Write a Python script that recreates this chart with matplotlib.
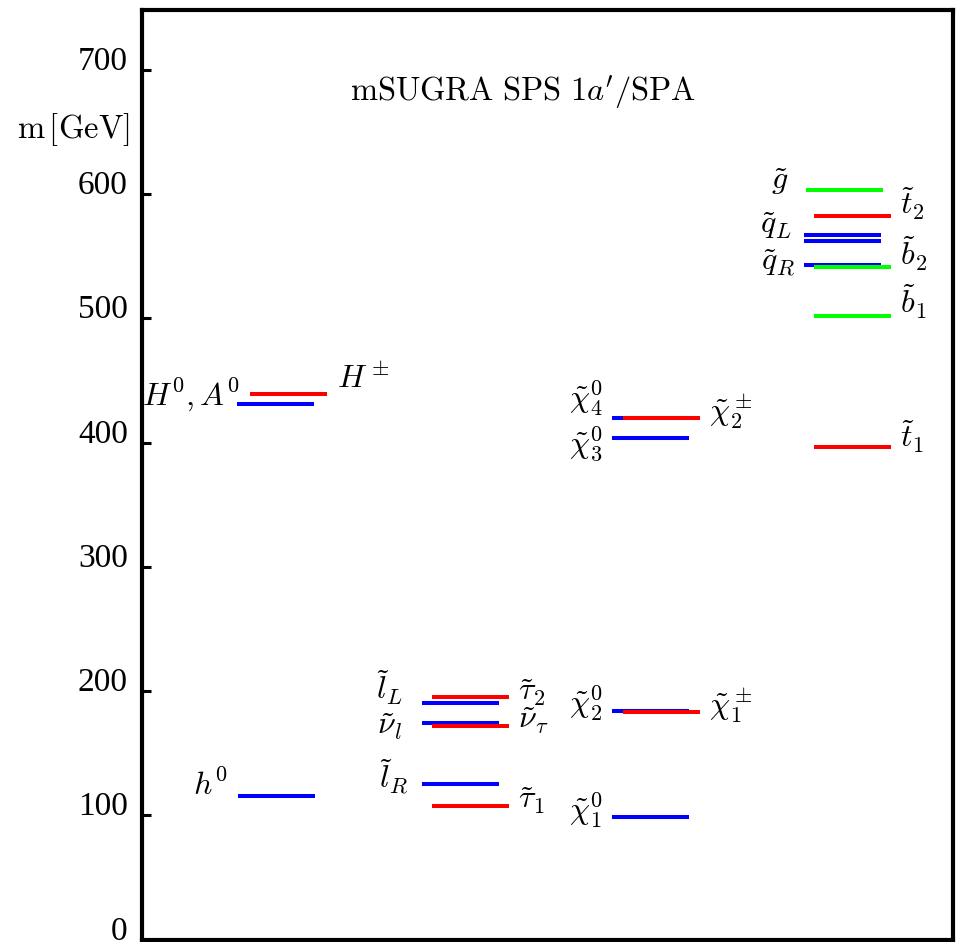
import matplotlib
matplotlib.use('Agg')
from matplotlib import pyplot as plt

plt.rcParams['mathtext.fontset'] = 'cm'
plt.rcParams['font.family'] = 'serif'
plt.rcParams['font.serif'] = ['Liberation Serif', 'DejaVu Serif']

# masses in GeV
higgs_blue = [116.0, 431.0]          # h0, H0/A0
higgs_red = [439.0]                  # H+-
slepton_blue = [125.5, 174.3, 190.8]  # l_R, nu_l, l_L
slepton_red = [107.3, 171.6, 195.7]   # tau1, nu_tau, tau2
neutralino = [98.4, 184.4, 403.5, 419.6]
chargino = [183.6, 419.6]
squark_blue = [542.4, 562.1, 566.6]  # q_R, q_L
squark_red = [396.6, 582.2]          # t1, t2
squark_green = [501.8, 541.2]        # b1, b2
gluino = [602.8]

yticks = [0, 100, 200, 300, 400, 500, 600, 700]

BLUE, RED, GREEN = '#0000ff', '#ff0000', '#00ff00'
LW = 2.9
WIDTH = 0.95

fig = plt.figure(figsize=(9.56, 9.42), dpi=100)
ax = fig.add_axes([141.7 / 956, 1 - 939.8 / 942, (952.5 - 141.7) / 956, (939.8 - 9.5) / 942])
ax.set_xlim(0, 10)
ax.set_ylim(0, 748.3)


def levels(masses, x0, color):
    for m in masses:
        ax.plot([x0, x0 + WIDTH], [m, m], color=color, lw=LW, solid_capstyle='butt')


# draw order: the second column of each group sits on top
levels(higgs_blue[:1], 1.19, BLUE)
levels(higgs_blue[1:], 1.17, BLUE)
levels(higgs_red, 1.34, RED)
levels(slepton_blue, 3.46, BLUE)
levels(slepton_red, 3.58, RED)
levels(neutralino, 5.80, BLUE)
levels(chargino, 5.94, RED)
levels(squark_blue, 8.17, BLUE)
levels(gluino, 8.19, GREEN)
levels(squark_red, 8.29, RED)
levels(squark_green, 8.29, GREEN)

labels = [
    (r'$h^0$', 1.06, 124.0, 'right'),
    (r'$H^0,A^0$', 1.21, 439.0, 'right'),
    (r'$H^\pm$', 2.41, 451.0, 'left'),
    (r'$\tilde{l}_L$', 3.23, 203.0, 'right'),
    (r'$\tilde{\nu}_l$', 3.21, 171.0, 'right'),
    (r'$\tilde{l}_R$', 3.29, 131.4, 'right'),
    (r'$\tilde{\tau}_2$', 4.64, 198.5, 'left'),
    (r'$\tilde{\nu}_\tau$', 4.64, 176.0, 'left'),
    (r'$\tilde{\tau}_1$', 4.64, 111.5, 'left'),
    (r'$\tilde{\chi}^0_4$', 5.69, 436.0, 'right'),
    (r'$\tilde{\chi}^0_3$', 5.69, 399.4, 'right'),
    (r'$\tilde{\chi}^\pm_2$', 7.00, 425.0, 'left'),
    (r'$\tilde{\chi}^0_2$', 5.69, 190.6, 'right'),
    (r'$\tilde{\chi}^\pm_1$', 7.00, 189.0, 'left'),
    (r'$\tilde{\chi}^0_1$', 5.69, 104.6, 'right'),
    (r'$\tilde{g}$', 7.97, 610.0, 'right'),
    (r'$\tilde{t}_2$', 9.35, 592.4, 'left'),
    (r'$\tilde{q}_L$', 8.02, 574.3, 'right'),
    (r'$\tilde{q}_R$', 8.06, 544.5, 'right'),
    (r'$\tilde{b}_2$', 9.35, 552.0, 'left'),
    (r'$\tilde{b}_1$', 9.35, 512.8, 'left'),
    (r'$\tilde{t}_1$', 9.35, 404.7, 'left'),
]
for txt, x, y, ha in labels:
    ax.text(x, y, txt, ha=ha, va='center', fontsize=23)

ax.text(4.70, 681.5, r'$\mathrm{mSUGRA\ SPS\ 1}a^\prime\mathrm{/SPA}$',
        ha='center', va='center', fontsize=23.4)
ax.text(-0.144, 652.0, r'$\mathrm{m}\,[\mathrm{GeV}]$', ha='right', va='center',
        fontsize=23.5, clip_on=False)

ax.set_xticks([])
ax.set_yticks(yticks)
ax.set_yticklabels([str(t) for t in yticks], fontsize=24)
ax.tick_params(axis='y', direction='in', length=6.5, width=2.2, pad=10)
for lab in ax.get_yticklabels():
    lab.set_va('baseline')
for sp in ax.spines.values():
    sp.set_linewidth(3.0)

fig.savefig('out.png', dpi=100)
